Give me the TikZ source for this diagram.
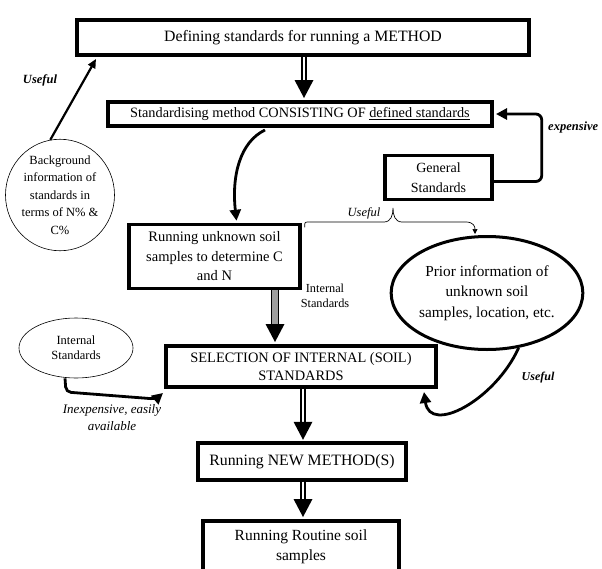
\documentclass[tikz,border=0pt]{standalone}
\usepackage{fontspec}
\setmainfont{Liberation Serif}
\usetikzlibrary{arrows.meta,shapes.geometric}
\newcommand\fsz[2]{\fontsize{#1pt}{#2pt}\selectfont}
\begin{document}
\begin{tikzpicture}[x=1pt,y=-1pt,
  box/.style={draw, line width=3.8pt, inner sep=0pt, align=center},
  oval/.style={draw, ellipse, inner sep=0pt, align=center},
  thk/.style={line width=2.8pt, -{Triangle[length=11pt,width=11pt]}},
  thkb/.style={line width=2.2pt, -{Triangle[length=9pt,width=8pt]}},
  dshaft/.style={double, double distance=2.6pt, line width=1.3pt},
  gshaft/.style={draw=black, line width=1.1pt, double=gray!75, double distance=5.5pt},
  thinbr/.style={line width=0.7pt, -{Triangle[length=5pt,width=5pt]}},
  lbl/.style={inner sep=0pt, align=center},
  dhead/.pic={\fill (0,0) -- (-9.5pt,18pt) -- (9.5pt,18pt) -- cycle;}
]
\useasboundingbox (0,0) rectangle (602,568);

% boxes
\node[box, line width=4pt, minimum width=452pt, minimum height=35pt, font=\fsz{15.8}{18}] (b1) at (303,37.5) {Defining standards for running a METHOD};
\node[box, line width=4pt, minimum width=384pt, minimum height=24pt, font=\fsz{14.3}{16}] (b2) at (300,114) {Standardising method CONSISTING OF \underline{defined standards}};
\node[box, line width=3.5pt, minimum width=107pt, minimum height=44pt, font=\fsz{14}{20}] (gs) at (438.5,177.5) {General\\Standards};
\node[box, line width=3.5pt, minimum width=171pt, minimum height=64pt, font=\fsz{14.5}{19.5}] (b3) at (214.5,256.5) {Running unknown soil\\samples to determine C\\and N};
\node[box, line width=4pt, minimum width=270pt, minimum height=41pt, font=\fsz{14.4}{18}] (b4) at (301,366.5) {SELECTION OF INTERNAL (SOIL)\\STANDARDS};
\node[box, line width=3.3pt, minimum width=208pt, minimum height=37pt, font=\fsz{15.8}{18}] (b5) at (302,461.5) {Running NEW METHOD(S)};
\node[box, line width=4pt, minimum width=196pt, minimum height=52pt, font=\fsz{15.5}{20}] (b6) at (301,547) {Running Routine soil\\samples};

% ovals
\node[oval, line width=0.6pt, minimum width=109pt, minimum height=110pt, font=\fsz{12.5}{17.5}] (bg) at (60,195) {Background\\information of\\standards in\\terms of N\% \&\\C\%};
\node[oval, line width=3pt, minimum width=175pt, minimum height=113pt, font=\fsz{15.3}{20.5}] (pe) at (487,293) {Prior information of\\unknown soil\\samples, location, etc.};
\node[oval, line width=0.6pt, minimum width=114pt, minimum height=60pt, font=\fsz{12.5}{15}] (ie) at (76,348) {Internal\\Standards};

% labels
\node[lbl, font=\bfseries\itshape\fsz{12.5}{13}] (lu1) at (40,80) {Useful};
\node[lbl, font=\bfseries\itshape\fsz{12.5}{14}, anchor=west] (lexp) at (548,127) {expensive};
\node[lbl, font=\itshape\fsz{12.5}{12}] (lu2) at (364,213) {Useful};
\node[lbl, font=\fsz{12.3}{15}] (lis) at (325,296) {Internal\\Standards};
\node[lbl, font=\itshape\fsz{13}{17}] (lin) at (112,418) {Inexpensive, easily\\available};
\node[lbl, font=\bfseries\itshape\fsz{12}{13}] (lu3) at (538,378) {Useful};

% double arrows
\draw[dshaft] ([xshift=1pt]b1.south) -- ([xshift=4pt,yshift=19pt]b2.north);
\pic at ([xshift=4pt,yshift=2pt]b2.north) {dhead};
\draw[dshaft] ([xshift=2pt]b4.south) -- ([xshift=1pt,yshift=19pt]b5.north);
\pic at ([xshift=1pt,yshift=1.6pt]b5.north) {dhead};
\draw[dshaft] ([xshift=1pt]b5.south) -- ([xshift=2pt,yshift=19pt]b6.north);
\pic at ([xshift=2pt,yshift=2pt]b6.north) {dhead};

% gray arrow
\draw[gshaft] ([xshift=60.5pt]b3.south) -- ([xshift=-26pt,yshift=19pt]b4.north);
\pic at ([xshift=-26pt,yshift=2pt]b4.north) {dhead};

% background -> box1
\draw[thkb] (bg.100) -- ([xshift=21pt,yshift=-2pt]b1.south west);

% general standards -> box2 (expensive)
\draw[thk, rounded corners=6pt] ([yshift=-4pt]gs.east) -- ++(48,0) |- ([xshift=2pt]b2.east);

% box2 -> box3 curved
\draw[thk] ([xshift=-35pt,yshift=-2pt]b2.south) .. controls +(-25,12) and +(-5,-45) .. ([xshift=22pt,yshift=2pt]b3.north);

% brace (Useful)
\draw[thinbr] ([shift={(3,4.5)}]b3.north east) .. controls +(0,-6) and +(-8,0) .. (312,222) -- (384,222)
  .. controls (391,222) and (393,215) .. (393,208)
  .. controls (393,215) and (395,222) .. (402,222) -- (466,222)
  .. controls (473,222) and (475,226) .. ([xshift=-12pt,yshift=1pt]pe.north);

% internal standards oval -> box4
\draw[thk, rounded corners=5pt] ([xshift=-11pt]ie.south) -- (66,392) -- (156,399) -- ([shift={(-1,4)}]b4.south west);

% prior info -> box4 (Useful)
\draw[thk] (pe.-60) .. controls (495,400) and (430,435) .. ([xshift=-14pt,yshift=-3pt]b4.south east);

\end{tikzpicture}
\end{document}
